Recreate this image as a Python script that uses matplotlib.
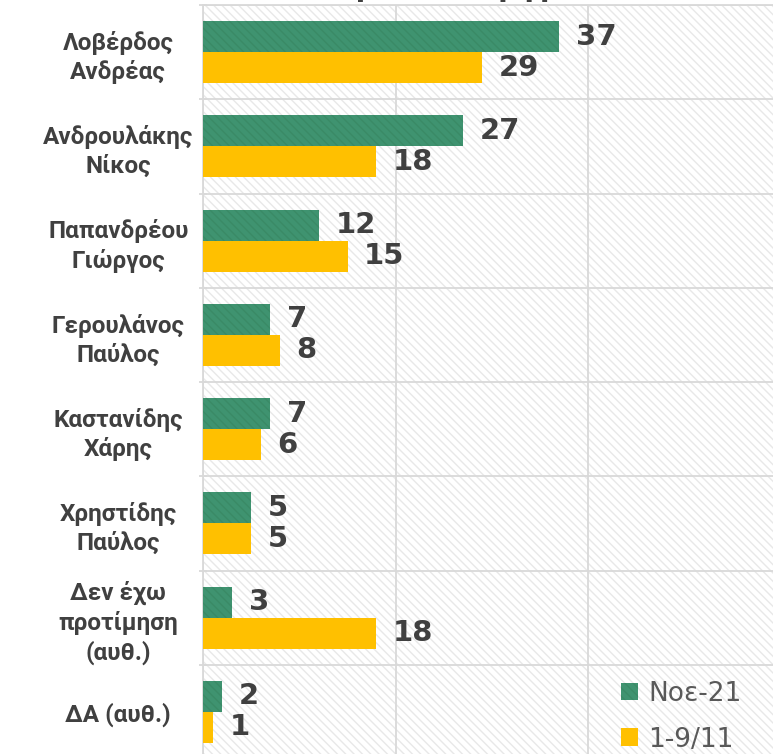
import matplotlib
matplotlib.use("Agg")
import matplotlib.pyplot as plt
from matplotlib.patches import Rectangle
import numpy as np

categories = ["Λοβέρδος\nΑνδρέας", "Ανδρουλάκης\nΝίκος", "Παπανδρέου\nΓιώργος",
              "Γερουλάνος\nΠαύλος", "Καστανίδης\nΧάρης", "Χρηστίδης\nΠαύλος",
              "Δεν έχω\nπροτίμηση\n(αυθ.)", "ΔΑ (αυθ.)"]
series_names = ["Νοε-21", "1-9/11"]
noe21 = [37, 27, 12, 7, 7, 5, 3, 2]
sep = [29, 18, 15, 8, 6, 5, 18, 1]
title_text = "(επί όσων δηλώνουν ψήφο)"

plt.rcParams['font.family'] = ['DejaVu Sans']
plt.rcParams['hatch.linewidth'] = 1.0

W, H = 773, 754
fig = plt.figure(figsize=(W / 100, H / 100), dpi=100)
left_px, top_px = 203, 5
ax_w_px = 578
ax_h_px = 754
ax = fig.add_axes([left_px / W, 1 - (top_px + ax_h_px) / H, ax_w_px / W, ax_h_px / H])
ax.set_facecolor('white')

# background pattern
bg = Rectangle((0, 0), 1, 1, transform=ax.transAxes, facecolor='white',
               edgecolor='#e8e8e8', hatch='\\\\\\\\', linewidth=0, zorder=0)
ax.add_patch(bg)

y = np.arange(len(categories))
h = 0.33
b1 = ax.barh(y - h / 2, noe21, height=h, color='#3f9370', edgecolor='#3a8a66',
             hatch='\\\\\\\\', linewidth=0, zorder=3, label=series_names[0])
b2 = ax.barh(y + h / 2, sep, height=h, color='#ffc000', linewidth=0, zorder=3,
             label=series_names[1])

for bars in (b1, b2):
    ax.bar_label(bars, padding=12, fontsize=21, fontweight='bold', color='#404040')

ax.set_xlim(0, 60)
ax.set_ylim(len(categories) - 0.5, -0.5)
ax.set_xticks([0, 20, 40, 60])
ax.set_xticklabels([])
ax.tick_params(axis='x', length=0)
ax.set_yticks(y)
ax.set_yticklabels(categories, fontsize=17.5, fontweight='bold', color='#404040',
                   multialignment='center', family=['Roboto', 'DejaVu Sans'],
                   linespacing=1.3)
for lbl in ax.get_yticklabels():
    lbl.set_ha('center')
ax.tick_params(axis='y', which='major', length=0, pad=61)
ax.set_yticks(np.arange(-0.5, len(categories), 1), minor=True)
ax.tick_params(axis='y', which='minor', length=6, direction='inout', color='#d9d9d9', width=1.3)
ax.grid(axis='x', which='major', color='#d9d9d9', linewidth=1.3, zorder=1)
ax.grid(axis='y', which='minor', color='#d9d9d9', linewidth=1.3, zorder=1)
ax.set_axisbelow(True)
for s in ax.spines.values():
    s.set_color('#d9d9d9')
    s.set_linewidth(1.3)

leg = fig.legend(loc='upper left', bbox_to_anchor=(597 / W, 1 - 657 / H), frameon=False,
                 fontsize=19, handlelength=0.65, handleheight=0.65, handletextpad=0.4,
                 labelspacing=0.75, labelcolor='#595959')

fig.text(375 / W, 1 + 4 / H, title_text, ha='center', va='baseline', fontsize=20,
         fontweight='bold', color='#404040')

fig.savefig('out.png', dpi=100)
